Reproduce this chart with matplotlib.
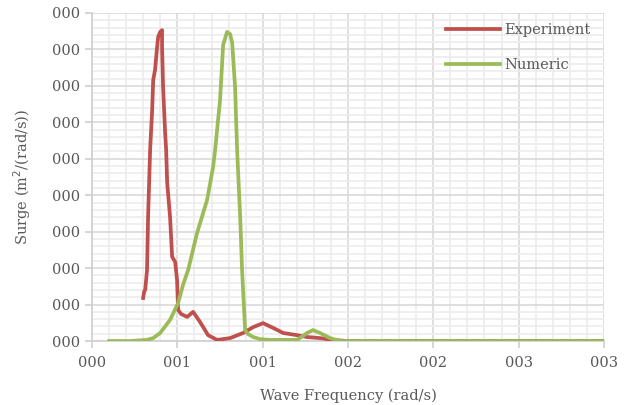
import matplotlib.pyplot as plt
from matplotlib.ticker import MultipleLocator

# Wave frequency (axis units, major step 0.5) and surge response
exp_freq = [0.299, 0.305, 0.311, 0.322, 0.328, 0.340, 0.352, 0.358, 0.369, 0.381, 0.387,
            0.399, 0.410, 0.410, 0.416, 0.428, 0.434, 0.440, 0.457, 0.469, 0.487,
            0.498, 0.504, 0.522, 0.557, 0.592, 0.633, 0.680, 0.733, 0.809, 0.885,
            0.944, 1.002, 1.061, 1.120, 1.202, 1.260, 1.336, 1.413, 1.495, 3.0]
exp_surge = [1.18, 1.36, 1.40, 1.95, 3.40, 5.24, 6.34, 7.16, 7.44, 8.07, 8.34,
             8.48, 8.53, 8.07, 6.97, 5.71, 5.24, 4.34, 3.40, 2.31, 2.17,
             1.67, 0.85, 0.74, 0.66, 0.80, 0.52, 0.16, 0.03, 0.08, 0.22,
             0.38, 0.49, 0.36, 0.22, 0.16, 0.11, 0.08, 0.03, 0.0, 0.0]

num_freq = [0.100, 0.223, 0.322, 0.358, 0.399, 0.457, 0.504, 0.533, 0.563, 0.615,
            0.674, 0.709, 0.721, 0.750, 0.768, 0.791, 0.809, 0.821, 0.838, 0.850,
            0.868, 0.879, 0.897, 0.914, 0.944, 0.985, 1.043, 1.143, 1.202, 1.260,
            1.295, 1.336, 1.395, 1.454, 3.0]
num_surge = [0.0, 0.0, 0.03, 0.08, 0.22, 0.58, 1.04, 1.54, 1.95, 2.96,
             3.87, 4.77, 5.24, 6.61, 8.12, 8.48, 8.42, 8.18, 6.97, 5.24,
             3.40, 1.95, 0.30, 0.19, 0.11, 0.05, 0.03, 0.03, 0.03, 0.22,
             0.30, 0.22, 0.08, 0.0, 0.0]

x_ticks = [0, 0.5, 1.0, 1.5, 2.0, 2.5, 3.0]
x_labels = ['000', '001', '001', '002', '002', '003', '003']
y_ticks = list(range(10))
y_labels = ['000'] * 10

plt.rcParams['font.family'] = ['DejaVu Serif']

fig = plt.figure(figsize=(6.31, 4.05), dpi=100)
ax = fig.add_axes([0.146, 0.158, 0.811, 0.810])

ax.plot(exp_freq, exp_surge, color='#c0504d', lw=2.7, label='Experiment', zorder=3,
        solid_joinstyle='round')
ax.plot(num_freq, num_surge, color='#9bbb59', lw=2.7, label='Numeric', zorder=4,
        solid_joinstyle='round')

ax.set_xlim(0, 3.0)
ax.set_ylim(0, 9)
ax.set_xticks(x_ticks)
ax.set_xticklabels(x_labels)
ax.set_yticks(y_ticks)
ax.set_yticklabels(y_labels)
ax.xaxis.set_minor_locator(MultipleLocator(0.1))
ax.yaxis.set_minor_locator(MultipleLocator(0.2))

ax.grid(which='minor', color='#ececec', lw=1.2)
ax.grid(which='major', color='#d9d9d9', lw=1.2)
ax.set_axisbelow(True)

for side in ['top', 'right']:
    ax.spines[side].set_visible(False)
for side in ['left', 'bottom']:
    ax.spines[side].set_color('#d0d0d0')
    ax.spines[side].set_linewidth(1.2)

ax.tick_params(which='major', length=5, width=1.2, color='#d0d0d0',
               labelcolor='#595959', labelsize=10.5)
ax.tick_params(which='minor', length=0)
ax.tick_params(axis='x', pad=6)

ax.set_xlabel('Wave Frequency (rad/s)', color='#595959', fontsize=10.5, labelpad=13)
ax.set_ylabel('Surge (m$^2$/(rad/s))', color='#595959', fontsize=10.5, labelpad=14)

ax.legend(loc='upper right', bbox_to_anchor=(1.0, 1.01), frameon=False,
          fontsize=10.5, handlelength=3.7, labelspacing=1.45, handletextpad=0.3,
          labelcolor='#595959')

fig.savefig('out.png', dpi=100)
